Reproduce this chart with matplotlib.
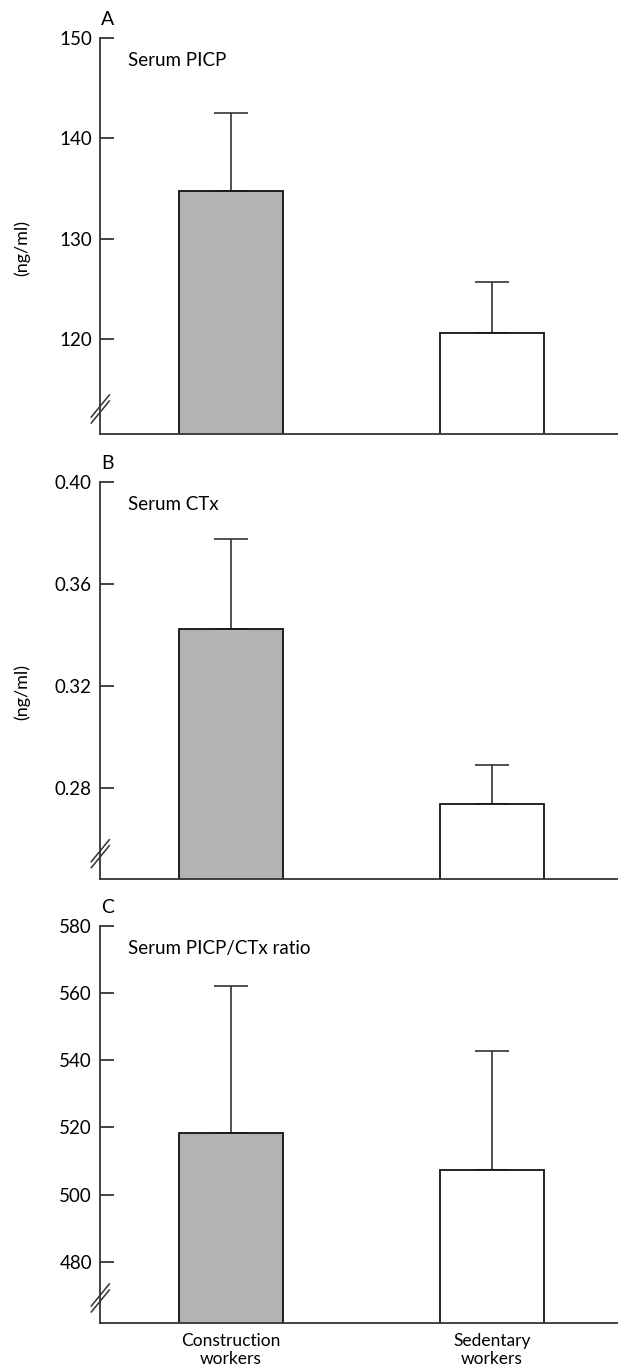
import matplotlib
matplotlib.use("Agg")
import matplotlib.pyplot as plt

# ---- data ----
groups = ["Construction\nworkers", "Sedentary\nworkers"]
picp_mean = [134.8, 120.6]
picp_err = [7.7, 5.1]
ctx_mean = [0.3424, 0.2736]
ctx_err = [0.0351, 0.0155]
ratio_mean = [518.4, 507.4]
ratio_err = [43.8, 35.3]

panel_letters = ["A", "B", "C"]
panel_titles = ["Serum PICP", "Serum CTx", "Serum PICP/CTx ratio"]
ylabels = ["(ng/ml)", "(ng/ml)", None]
yticks_list = [[120, 130, 140, 150], [0.28, 0.32, 0.36, 0.40], [480, 500, 520, 540, 560, 580]]
yticklabels_list = [["120", "130", "140", "150"], ["0.28", "0.32", "0.36", "0.40"],
                    ["480", "500", "520", "540", "560", "580"]]
ylims = [(110.6, 150), (0.2444, 0.40), (461.8, 580)]
means = [picp_mean, ctx_mean, ratio_mean]
errs = [picp_err, ctx_err, ratio_err]

plt.rcParams['font.family'] = ['Lato', 'DejaVu Sans']

W, H = 618, 1367
fig = plt.figure(figsize=(W / 100, H / 100), dpi=100)

# axes rectangles in pixel coords (left, top, right, bottom)
rects = [(100.3, 37.6, 618, 434), (100.3, 481.7, 618, 878.7), (100.3, 925.7, 618, 1323)]
colors = ["#b3b3b3", "white"]
xpos = [0, 1]

for i in range(3):
    l, t, r, b = rects[i]
    ax = fig.add_axes([l / W, 1 - b / H, (r - l) / W, (b - t) / H])
    ax.bar(xpos, means[i], width=0.4, color=colors, edgecolor="#111111", linewidth=1.3,
           bottom=0, zorder=2)
    ax.errorbar(xpos, means[i], yerr=[[0, 0], errs[i]], fmt="none", ecolor="#333333",
                elinewidth=1.2, capsize=11.9, capthick=1.2, zorder=1)
    ax.set_xlim(-0.5, 1.483)
    ax.set_ylim(*ylims[i])
    ax.set_yticks(yticks_list[i])
    ax.set_yticklabels(yticklabels_list[i])
    for s in ["top", "right"]:
        ax.spines[s].set_visible(False)
    for s in ["left", "bottom"]:
        ax.spines[s].set_color("#333333")
        ax.spines[s].set_linewidth(1.3)
    ax.tick_params(axis="y", direction="in", length=10, width=1.1, color="#111111",
                   labelsize=13.5, pad=6)
    if i == 2:
        ax.set_xticks(xpos)
        ax.set_xticklabels(groups, fontsize=12.5, linespacing=1.15)
        ax.tick_params(axis="x", length=0, pad=7)
    else:
        ax.set_xticks([])
    # axis break marks
    axw = r - l
    axh = b - t
    for off in (22, 28):
        ax.plot([-9 / axw, 9 / axw], [(off - 11) / axh, (off + 11) / axh],
                transform=ax.transAxes, color="#333333", lw=1.1, clip_on=False)
    # panel letter & title
    fig.text((l + 7) / W, 1 - (t - 18) / H, panel_letters[i], ha="center", va="center",
             fontsize=14)
    fig.text(128 / W, 1 - (t + 23) / H, panel_titles[i], ha="left", va="center",
             fontsize=13.5)
    if ylabels[i]:
        fig.text(22 / W, 1 - ((t + b) / 2 + 12) / H, ylabels[i], rotation=90,
                 ha="center", va="center", fontsize=13)

fig.savefig("out.png", dpi=100)
